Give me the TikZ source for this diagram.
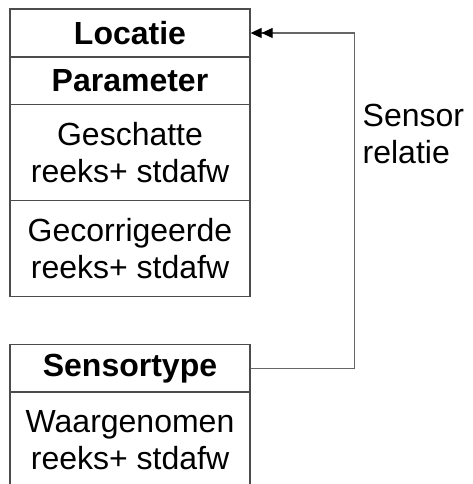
\documentclass[tikz,border=0pt]{standalone}
\usepackage{fontspec}
\setmainfont{Liberation Sans}
\usetikzlibrary{arrows.meta}
\begin{document}
\begin{tikzpicture}[x=1pt,y=-1pt,
  line width=1.3pt,
  txt/.style={font=\fontsize{32}{37}\selectfont},
  bold/.style={font=\fontsize{32}{37}\selectfont\bfseries},
  rowbox/.style={txt, draw=black!70, minimum width=240pt, inner sep=0pt, align=center},
  link/.style={draw=black!60, line width=1.2pt},
  twotip/.style={-{Triangle[length=11pt,width=10pt,sep=0pt,color=black]Triangle[length=11pt,width=10pt,color=black]}}
]
\useasboundingbox (0,0) rectangle (472,484);
\clip (0,0) rectangle (472,484);

% Locatie entity
\node[rowbox, bold, minimum height=48pt] (loc) at (130,33) {Locatie};
\node[rowbox, bold, minimum height=48pt] (par) at (130,80.5) {Parameter};
\node[rowbox, minimum height=96pt] (gesch) at (130,152.5) {Geschatte\\reeks+ stdafw};
\node[rowbox, minimum height=96pt] (gecor) at (130,248.5) {Gecorrigeerde\\reeks+ stdafw};

% Sensortype entity
\node[rowbox, bold, minimum height=48pt] (stype) at (130,368.5) {Sensortype};
\node[rowbox, minimum height=96pt] (waarg) at (130,440) {Waargenomen\\reeks+ stdafw};

% relation
\draw[link, twotip] (stype.east) -- ++(104,0) |- (loc.east);
\node[txt, anchor=north west, align=left, inner sep=0pt] (lbl) at (362,104) {Sensor\\relatie};
\end{tikzpicture}
\end{document}
